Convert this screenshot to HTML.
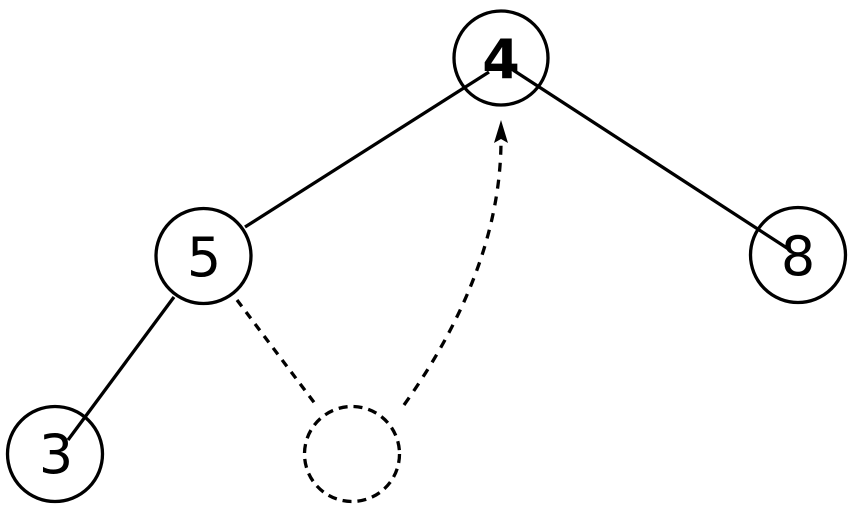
<!DOCTYPE html>
<html><head><meta charset="utf-8"><style>html,body{margin:0;padding:0;background:#fff}svg{display:block}</style></head>
<body>
<svg width="854" height="512" viewBox="0 0 854 512" xmlns="http://www.w3.org/2000/svg">
<g stroke="#000" stroke-width="3.3" fill="none">
<line x1="245" y1="227" x2="489" y2="72"/>
<line x1="513" y1="70" x2="790" y2="250"/>
<line x1="174" y1="297" x2="68" y2="440"/>
<line x1="237" y1="300" x2="316" y2="405" stroke-dasharray="8,7"/>
<path d="M404,405 Q500,270 501,142" stroke-dasharray="9,8"/>
<circle cx="501" cy="58" r="47"/>
<circle cx="203.5" cy="256" r="47.5"/>
<circle cx="798" cy="255" r="47.5"/>
<circle cx="55" cy="454" r="47.5"/>
<circle cx="352" cy="454" r="47.5" stroke-dasharray="9,6"/>
</g>
<polygon points="501,120 494,143 501,139 508,143" fill="#000"/>
<g font-family="DejaVu Sans, Liberation Sans, sans-serif" font-size="54" text-anchor="middle" fill="#000">
<text x="501" y="78" font-weight="bold">4</text>
<text x="204" y="276">5</text>
<text x="798" y="275">8</text>
<text x="56" y="473">3</text>
</g>
</svg>
</body></html>
